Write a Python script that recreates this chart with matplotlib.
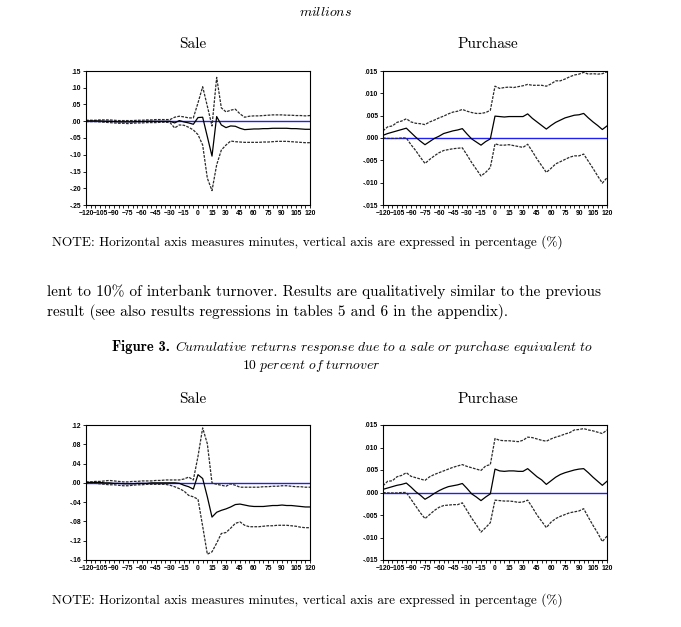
import numpy as np
import matplotlib
matplotlib.use("Agg")
import matplotlib.pyplot as plt
from matplotlib.ticker import MultipleLocator, FuncFormatter

plt.rcParams["mathtext.fontset"] = "cm"

# minutes around the trade (5 minute grid)
minutes = list(range(-120, 121, 5))

# Sale, 5% of turnover (top left)
sale1_mid = [0.001, 0.001, 0.001, 0.001, 0.000, 0.000, -0.001, -0.002, -0.002, -0.002,
             -0.002, -0.001, -0.001, 0.000, 0.000, 0.000, 0.000, 0.000, 0.000, -0.005,
             0.002, -0.002, -0.005, -0.009, 0.011, 0.012, -0.046, -0.104, 0.014, -0.011,
             -0.019, -0.014, -0.015, -0.021, -0.025, -0.024, -0.023, -0.023, -0.022, -0.022,
             -0.021, -0.021, -0.021, -0.021, -0.022, -0.022, -0.023, -0.024, -0.024]
sale1_up = [0.003, 0.003, 0.003, 0.004, 0.004, 0.004, 0.003, 0.002, 0.002, 0.002,
            0.002, 0.003, 0.003, 0.004, 0.004, 0.005, 0.005, 0.005, 0.005, 0.012,
            0.015, 0.013, 0.010, 0.010, 0.055, 0.103, 0.045, -0.014, 0.131, 0.040,
            0.028, 0.033, 0.036, 0.022, 0.012, 0.015, 0.016, 0.016, 0.017, 0.018,
            0.019, 0.019, 0.019, 0.018, 0.018, 0.017, 0.017, 0.016, 0.017]
sale1_lo = [-0.001, -0.001, -0.001, -0.002, -0.003, -0.004, -0.005, -0.006, -0.006, -0.007,
            -0.006, -0.005, -0.005, -0.004, -0.004, -0.004, -0.003, -0.003, -0.004, -0.020,
            -0.011, -0.012, -0.018, -0.026, -0.040, -0.071, -0.170, -0.207, -0.130, -0.086,
            -0.071, -0.059, -0.061, -0.062, -0.063, -0.063, -0.063, -0.063, -0.062, -0.062,
            -0.061, -0.060, -0.060, -0.060, -0.061, -0.062, -0.063, -0.064, -0.064]

# Purchase, 5% of turnover (top right)
purch1_mid = [0.0006, 0.0010, 0.0013, 0.0016, 0.0019, 0.0022, 0.0012, 0.0002, -0.0007, -0.0015,
              -0.0008, -0.0001, 0.0004, 0.0010, 0.0013, 0.0016, 0.0018, 0.0021, 0.0009, -0.0002,
              -0.0009, -0.0016, -0.0008, -0.0002, 0.0049, 0.0048, 0.0047, 0.0048, 0.0048, 0.0048,
              0.0048, 0.0054, 0.0044, 0.0036, 0.0028, 0.0020, 0.0028, 0.0035, 0.0040, 0.0045,
              0.0048, 0.0051, 0.0052, 0.0055, 0.0045, 0.0036, 0.0028, 0.0019, 0.0027]
purch1_up = [0.0016, 0.0025, 0.0027, 0.0035, 0.0038, 0.0043, 0.0036, 0.0033, 0.0032, 0.0030,
             0.0036, 0.0040, 0.0045, 0.0049, 0.0054, 0.0058, 0.0060, 0.0064, 0.0060, 0.0057,
             0.0055, 0.0055, 0.0057, 0.0062, 0.0116, 0.0111, 0.0113, 0.0114, 0.0113, 0.0115,
             0.0117, 0.0120, 0.0118, 0.0118, 0.0118, 0.0116, 0.0121, 0.0128, 0.0128, 0.0132,
             0.0137, 0.0141, 0.0143, 0.0147, 0.0143, 0.0144, 0.0143, 0.0144, 0.0148]
purch1_lo = [0.0000, -0.0001, -0.0001, -0.0001, 0.0000, 0.0000, -0.0015, -0.0028, -0.0043, -0.0057,
             -0.0048, -0.0040, -0.0033, -0.0028, -0.0026, -0.0024, -0.0023, -0.0022, -0.0038, -0.0055,
             -0.0070, -0.0085, -0.0077, -0.0066, -0.0013, -0.0016, -0.0016, -0.0015, -0.0017, -0.0019,
             -0.0021, -0.0014, -0.0030, -0.0047, -0.0062, -0.0077, -0.0068, -0.0058, -0.0053, -0.0048,
             -0.0043, -0.0040, -0.0040, -0.0036, -0.0052, -0.0068, -0.0085, -0.0101, -0.0089]

# Sale, 10% of turnover (bottom left)
sale2_mid = [0.001, 0.001, 0.001, 0.001, 0.000, 0.000, -0.001, -0.001, -0.002, -0.002,
             -0.002, -0.001, -0.001, -0.001, 0.000, 0.000, 0.000, 0.000, 0.000, 0.000,
             -0.001, -0.005, -0.008, -0.013, 0.017, 0.009, -0.029, -0.071, -0.061, -0.057,
             -0.054, -0.050, -0.045, -0.044, -0.046, -0.048, -0.049, -0.049, -0.049, -0.048,
             -0.047, -0.047, -0.046, -0.047, -0.047, -0.048, -0.049, -0.050, -0.050]
sale2_up = [0.002, 0.002, 0.003, 0.003, 0.004, 0.005, 0.004, 0.003, 0.002, 0.002,
            0.003, 0.003, 0.004, 0.004, 0.004, 0.005, 0.005, 0.006, 0.006, 0.006,
            0.006, 0.008, 0.012, 0.006, 0.055, 0.114, 0.081, 0.000, -0.003, -0.005,
            -0.007, -0.002, -0.005, -0.009, -0.009, -0.009, -0.009, -0.009, -0.008, -0.008,
            -0.007, -0.007, -0.006, -0.006, -0.007, -0.008, -0.008, -0.009, -0.009]
sale2_lo = [-0.001, -0.001, -0.001, -0.002, -0.003, -0.004, -0.004, -0.005, -0.006, -0.006,
            -0.005, -0.004, -0.004, -0.003, -0.003, -0.003, -0.003, -0.003, -0.005, -0.008,
            -0.012, -0.017, -0.026, -0.029, -0.034, -0.090, -0.148, -0.143, -0.125, -0.105,
            -0.103, -0.094, -0.084, -0.081, -0.088, -0.091, -0.091, -0.091, -0.090, -0.089,
            -0.089, -0.088, -0.088, -0.088, -0.089, -0.090, -0.092, -0.093, -0.093]

# Purchase, 10% of turnover (bottom right)
purch2_mid = [0.0007, 0.0010, 0.0013, 0.0016, 0.0018, 0.0021, 0.0012, 0.0002, -0.0006, -0.0015,
              -0.0009, -0.0002, 0.0004, 0.0009, 0.0013, 0.0015, 0.0017, 0.0020, 0.0009, -0.0003,
              -0.0010, -0.0018, -0.0010, -0.0003, 0.0052, 0.0048, 0.0047, 0.0048, 0.0048, 0.0047,
              0.0047, 0.0053, 0.0044, 0.0035, 0.0028, 0.0018, 0.0026, 0.0034, 0.0040, 0.0044,
              0.0047, 0.0050, 0.0052, 0.0053, 0.0044, 0.0034, 0.0025, 0.0016, 0.0025]
purch2_up = [0.0015, 0.0025, 0.0026, 0.0035, 0.0038, 0.0044, 0.0036, 0.0033, 0.0030, 0.0027,
             0.0035, 0.0040, 0.0044, 0.0048, 0.0052, 0.0056, 0.0059, 0.0062, 0.0058, 0.0055,
             0.0052, 0.0049, 0.0059, 0.0062, 0.0120, 0.0116, 0.0115, 0.0115, 0.0114, 0.0113,
             0.0116, 0.0123, 0.0122, 0.0119, 0.0116, 0.0114, 0.0119, 0.0123, 0.0126, 0.0130,
             0.0133, 0.0139, 0.0140, 0.0142, 0.0139, 0.0137, 0.0134, 0.0131, 0.0139]
purch2_lo = [0.0000, -0.0001, -0.0001, -0.0001, 0.0000, 0.0000, -0.0015, -0.0030, -0.0045, -0.0058,
             -0.0049, -0.0040, -0.0033, -0.0029, -0.0028, -0.0027, -0.0027, -0.0023, -0.0040, -0.0057,
             -0.0072, -0.0088, -0.0078, -0.0067, -0.0017, -0.0018, -0.0019, -0.0019, -0.0020, -0.0022,
             -0.0021, -0.0017, -0.0033, -0.0050, -0.0064, -0.0078, -0.0066, -0.0058, -0.0053, -0.0049,
             -0.0045, -0.0043, -0.0041, -0.0036, -0.0055, -0.0073, -0.0090, -0.0109, -0.0097]


def short_fmt(decimals):
    # EViews style labels: .15, -.05, .000
    def f(v, _):
        s = f"{v:.{decimals}f}"
        if float(s) == 0:
            s = f"{0:.{decimals}f}"
        return s.replace("0.", ".", 1)
    return FuncFormatter(f)


def draw_panel(ax, mid, up, lo, ylim, ystep, decimals):
    band = dict(color="#2a2a2a", lw=0.9, ls=(0, (2.2, 1.0)))
    ax.axhline(0, color="#2020f0", lw=1.0, zorder=1)
    ax.plot(minutes, up, **band)
    ax.plot(minutes, lo, **band)
    ax.plot(minutes, mid, color="black", lw=0.9)
    ax.set_xlim(-120, 120)
    ax.set_ylim(*ylim)
    ax.xaxis.set_major_locator(MultipleLocator(15))
    ax.xaxis.set_minor_locator(MultipleLocator(5))
    ax.yaxis.set_major_locator(MultipleLocator(ystep))
    ax.yaxis.set_major_formatter(short_fmt(decimals))
    ax.tick_params(which="both", direction="out", length=2.5, width=0.6, pad=1)
    for lab in ax.get_xticklabels() + ax.get_yticklabels():
        lab.set_fontfamily("Liberation Sans")
        lab.set_fontweight("bold")
        lab.set_fontsize(4.9)
    for sp in ax.spines.values():
        sp.set_linewidth(0.8)


def it(s):
    return r"$\mathit{" + s.replace(" ", r"\ ") + "}$"


fig = plt.figure(figsize=(6.81, 6.27), dpi=100)

W = 224 / 681
ax1 = fig.add_axes([86 / 681, 1 - 205 / 627, W, 134 / 627])
ax2 = fig.add_axes([383 / 681, 1 - 205 / 627, W, 134 / 627])
ax3 = fig.add_axes([86 / 681, 1 - 560 / 627, W, 135 / 627])
ax4 = fig.add_axes([383 / 681, 1 - 560 / 627, W, 135 / 627])

draw_panel(ax1, sale1_mid, sale1_up, sale1_lo, (-0.25, 0.15), 0.05, 2)
draw_panel(ax2, purch1_mid, purch1_up, purch1_lo, (-0.015, 0.015), 0.005, 3)
draw_panel(ax3, sale2_mid, sale2_up, sale2_lo, (-0.16, 0.12), 0.04, 2)
draw_panel(ax4, purch2_mid, purch2_up, purch2_lo, (-0.015, 0.015), 0.005, 3)


def ftext(x, y, s, **kw):
    fig.text(x / 681, 1 - y / 627, s, va="center", **kw)


serif = dict(family="cmr10")
note = "NOTE: Horizontal axis measures minutes, vertical axis are expressed in percentage (%)"

ftext(325, 12, it("millions"), ha="center", fontsize=10)
ftext(193, 44, "Sale", ha="center", fontsize=11, **serif)
ftext(488, 44, "Purchase", ha="center", fontsize=11, **serif)
ftext(52, 242, note, ha="left", fontsize=9.6, **serif)

ftext(47, 292, "lent to 10% of interbank turnover. Results are qualitatively similar to the previous",
      ha="left", fontsize=11, **serif)
ftext(47, 312, "result (see also results regressions in tables 5 and 6 in the appendix).",
      ha="left", fontsize=11, **serif)

# caption: bold label then italic text
ftext(112, 347, "Figure 3.", ha="left", fontsize=10.5, family="cmb10")
ftext(593, 347, it("Cumulative returns response due to a sale or purchase equivalent to"),
      ha="right", fontsize=9.85)
ftext(311, 366, r"$\mathrm{10}\ \mathit{percent\ of\ turnover}$", ha="center", fontsize=9.85)

ftext(193, 399, "Sale", ha="center", fontsize=11, **serif)
ftext(488, 399, "Purchase", ha="center", fontsize=11, **serif)
ftext(52, 600, note, ha="left", fontsize=9.6, **serif)

fig.savefig("out.png", dpi=100)
